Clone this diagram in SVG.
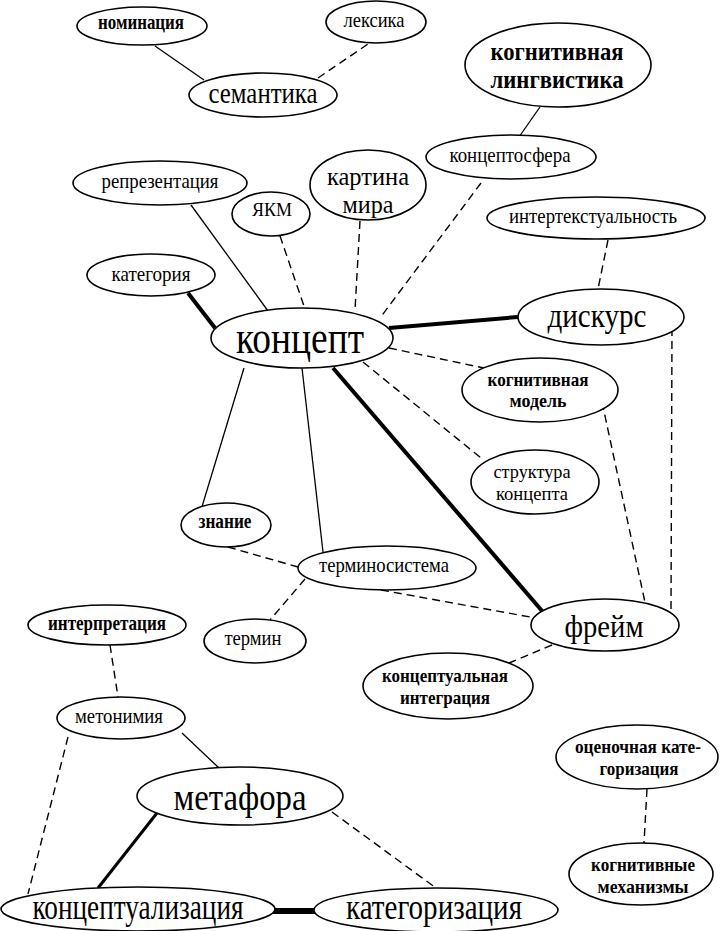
<svg xmlns="http://www.w3.org/2000/svg" width="724" height="931" viewBox="0 0 724 931">
<style>
.bg{fill:#fff}
.n ellipse{fill:#fff;stroke:#000;stroke-width:1.6}
text{font-family:"Liberation Serif","Times New Roman",serif;fill:#000;text-anchor:middle}
.s{font-size:21px}
.m{font-size:19px}
.b{font-weight:bold}
.l{stroke:#000;stroke-width:1.3;fill:none}
.d{stroke:#000;stroke-width:1.4;fill:none;stroke-dasharray:8 5}
.t{stroke:#000;stroke-width:4;fill:none}
</style>
<rect class="bg" x="0" y="0" width="724" height="931"/>
<g id="connectors">
<line class="l" x1="155" y1="46" x2="204" y2="80"/>
<line class="d" x1="318" y1="78" x2="368" y2="44"/>
<line class="l" x1="540" y1="107" x2="519" y2="137"/>
<line class="l" x1="191" y1="205" x2="268" y2="311"/>
<line class="d" x1="280" y1="236" x2="305" y2="309"/>
<line class="d" x1="360" y1="221" x2="355" y2="310"/>
<line class="d" x1="481" y1="183" x2="380" y2="318"/>
<line class="d" x1="608" y1="240" x2="598" y2="289"/>
<line class="t" x1="188" y1="293" x2="215" y2="328"/>
<line class="t" x1="389" y1="328" x2="518" y2="317"/>
<line class="d" x1="389" y1="348" x2="484" y2="368"/>
<line class="d" x1="363" y1="362" x2="481" y2="458"/>
<line class="l" x1="244" y1="368" x2="201" y2="510"/>
<line class="l" x1="302" y1="368" x2="323" y2="552"/>
<line class="t" x1="333" y1="368" x2="543" y2="612"/>
<line class="d" x1="672" y1="328" x2="671" y2="610"/>
<line class="d" x1="602" y1="402" x2="646" y2="607"/>
<line class="d" x1="228" y1="547" x2="298" y2="567"/>
<line class="d" x1="381" y1="590" x2="530" y2="617"/>
<line class="d" x1="305" y1="579" x2="270" y2="620"/>
<line class="d" x1="552" y1="645" x2="509" y2="663"/>
<line class="d" x1="110" y1="645" x2="118" y2="697"/>
<line class="l" x1="182" y1="733" x2="219" y2="768"/>
<line class="d" x1="68" y1="737" x2="28" y2="894"/>
<line class="l" x1="157" y1="813" x2="98" y2="888" style="stroke-width:3"/>
<line class="d" x1="332" y1="812" x2="436" y2="888"/>
<line class="l" x1="273" y1="911" x2="317" y2="911" style="stroke-width:6"/>
<line class="d" x1="647" y1="789" x2="644" y2="843"/>
</g>
<g id="nominacia" class="n"><ellipse cx="142" cy="26" rx="65" ry="19"/><text class="s b" x="141" y="29" textLength="86" lengthAdjust="spacingAndGlyphs">номинация</text></g>
<g id="leksika" class="n"><ellipse cx="376" cy="22" rx="50" ry="21"/><text class="s" x="374" y="27" textLength="61" lengthAdjust="spacingAndGlyphs">лексика</text></g>
<g id="semantika" class="n"><ellipse cx="263" cy="95" rx="74" ry="22"/><text x="263" y="103" style="font-size:30px" textLength="109" lengthAdjust="spacingAndGlyphs">семантика</text></g>
<g id="kogn-lingv" class="n"><ellipse cx="558" cy="65" rx="93" ry="42"/><text class="b" x="557" y="60" style="font-size:26px" textLength="133" lengthAdjust="spacingAndGlyphs">когнитивная</text><text class="b" x="557" y="88" style="font-size:26px" textLength="133" lengthAdjust="spacingAndGlyphs">лингвистика</text></g>
<g id="konceptosfera" class="n"><ellipse cx="511" cy="157" rx="85" ry="22"/><text class="s" x="510" y="162" textLength="121" lengthAdjust="spacingAndGlyphs">концептосфера</text></g>
<g id="reprezentacia" class="n"><ellipse cx="160" cy="183" rx="87" ry="22"/><text class="s" x="160" y="188" textLength="117" lengthAdjust="spacingAndGlyphs">репрезентация</text></g>
<g id="yakm" class="n"><ellipse cx="271" cy="214" rx="39" ry="22"/><text x="272" y="216" style="font-size:18px" textLength="40" lengthAdjust="spacingAndGlyphs">ЯКМ</text></g>
<g id="kartina-mira" class="n"><ellipse cx="368" cy="185" rx="58" ry="35"/><text x="368" y="185" style="font-size:26px" textLength="82" lengthAdjust="spacingAndGlyphs">картина</text><text x="368" y="213" style="font-size:26px" textLength="51" lengthAdjust="spacingAndGlyphs">мира</text></g>
<g id="intertekst" class="n"><ellipse cx="596" cy="218" rx="109" ry="21"/><text class="s" x="593" y="223" textLength="168" lengthAdjust="spacingAndGlyphs">интертекстуальность</text></g>
<g id="kategoria" class="n"><ellipse cx="151" cy="275" rx="64" ry="21"/><text class="s" x="151" y="281" textLength="79" lengthAdjust="spacingAndGlyphs">категория</text></g>
<g id="koncept" class="n"><ellipse cx="302" cy="338" rx="91" ry="30"/><text x="300" y="353" style="font-size:47px" textLength="128" lengthAdjust="spacingAndGlyphs">концепт</text></g>
<g id="diskurs" class="n"><ellipse cx="601" cy="317" rx="83" ry="28"/><text x="597" y="327" style="font-size:34px" textLength="99" lengthAdjust="spacingAndGlyphs">дискурс</text></g>
<g id="kogn-model" class="n"><ellipse cx="540" cy="390" rx="78" ry="32"/><text class="b m" x="538" y="386" textLength="101" lengthAdjust="spacingAndGlyphs">когнитивная</text><text class="b m" x="538" y="407" textLength="57" lengthAdjust="spacingAndGlyphs">модель</text></g>
<g id="struktura" class="n"><ellipse cx="535" cy="482" rx="64" ry="32"/><text class="m" x="532" y="478" textLength="77" lengthAdjust="spacingAndGlyphs">структура</text><text class="m" x="532" y="500" textLength="72" lengthAdjust="spacingAndGlyphs">концепта</text></g>
<g id="znanie" class="n"><ellipse cx="226" cy="525" rx="45" ry="22"/><text class="b" x="225" y="528" style="font-size:20px" textLength="53" lengthAdjust="spacingAndGlyphs">знание</text></g>
<g id="terminosistema" class="n"><ellipse cx="387" cy="568" rx="89" ry="22"/><text class="s" x="384" y="572" textLength="130" lengthAdjust="spacingAndGlyphs">терминосистема</text></g>
<g id="freim" class="n"><ellipse cx="605" cy="625" rx="74" ry="26"/><text x="604" y="637" style="font-size:32px" textLength="79" lengthAdjust="spacingAndGlyphs">фрейм</text></g>
<g id="interpretacia" class="n"><ellipse cx="107" cy="625" rx="79" ry="20"/><text class="s b" x="107" y="630" textLength="118" lengthAdjust="spacingAndGlyphs">интерпретация</text></g>
<g id="termin" class="n"><ellipse cx="255" cy="641" rx="51" ry="22"/><text class="s" x="253" y="645" textLength="57" lengthAdjust="spacingAndGlyphs">термин</text></g>
<g id="konc-integracia" class="n"><ellipse cx="448" cy="686" rx="85" ry="33"/><text class="m b" x="445" y="682" textLength="126" lengthAdjust="spacingAndGlyphs">концептуальная</text><text class="m b" x="445" y="704" textLength="90" lengthAdjust="spacingAndGlyphs">интеграция</text></g>
<g id="metonimia" class="n"><ellipse cx="121" cy="718" rx="64" ry="21"/><text class="s" x="119" y="723" textLength="88" lengthAdjust="spacingAndGlyphs">метонимия</text></g>
<g id="ocenochnaya" class="n"><ellipse cx="637" cy="757" rx="81" ry="32"/><text class="m b" x="638" y="753" textLength="126" lengthAdjust="spacingAndGlyphs">оценочная кате-</text><text class="m b" x="639" y="775" textLength="79" lengthAdjust="spacingAndGlyphs">горизация</text></g>
<g id="kogn-mehanizmy" class="n"><ellipse cx="641" cy="874" rx="72" ry="31"/><text class="m b" x="643" y="871" textLength="104" lengthAdjust="spacingAndGlyphs">когнитивные</text><text class="m b" x="643" y="893" textLength="91" lengthAdjust="spacingAndGlyphs">механизмы</text></g>
<g id="metafora" class="n"><ellipse cx="240" cy="796" rx="103" ry="29"/><text x="240" y="810" style="font-size:37px" textLength="133" lengthAdjust="spacingAndGlyphs">метафора</text></g>
<g id="konceptualizacia" class="n"><ellipse cx="138" cy="909" rx="137" ry="22"/><text x="138" y="919" style="font-size:36px" textLength="211" lengthAdjust="spacingAndGlyphs">концептуализация</text></g>
<g id="kategorizacia" class="n"><ellipse cx="436" cy="910" rx="122" ry="22"/><text x="434" y="919" style="font-size:36px" textLength="176" lengthAdjust="spacingAndGlyphs">категоризация</text></g>
</svg>
